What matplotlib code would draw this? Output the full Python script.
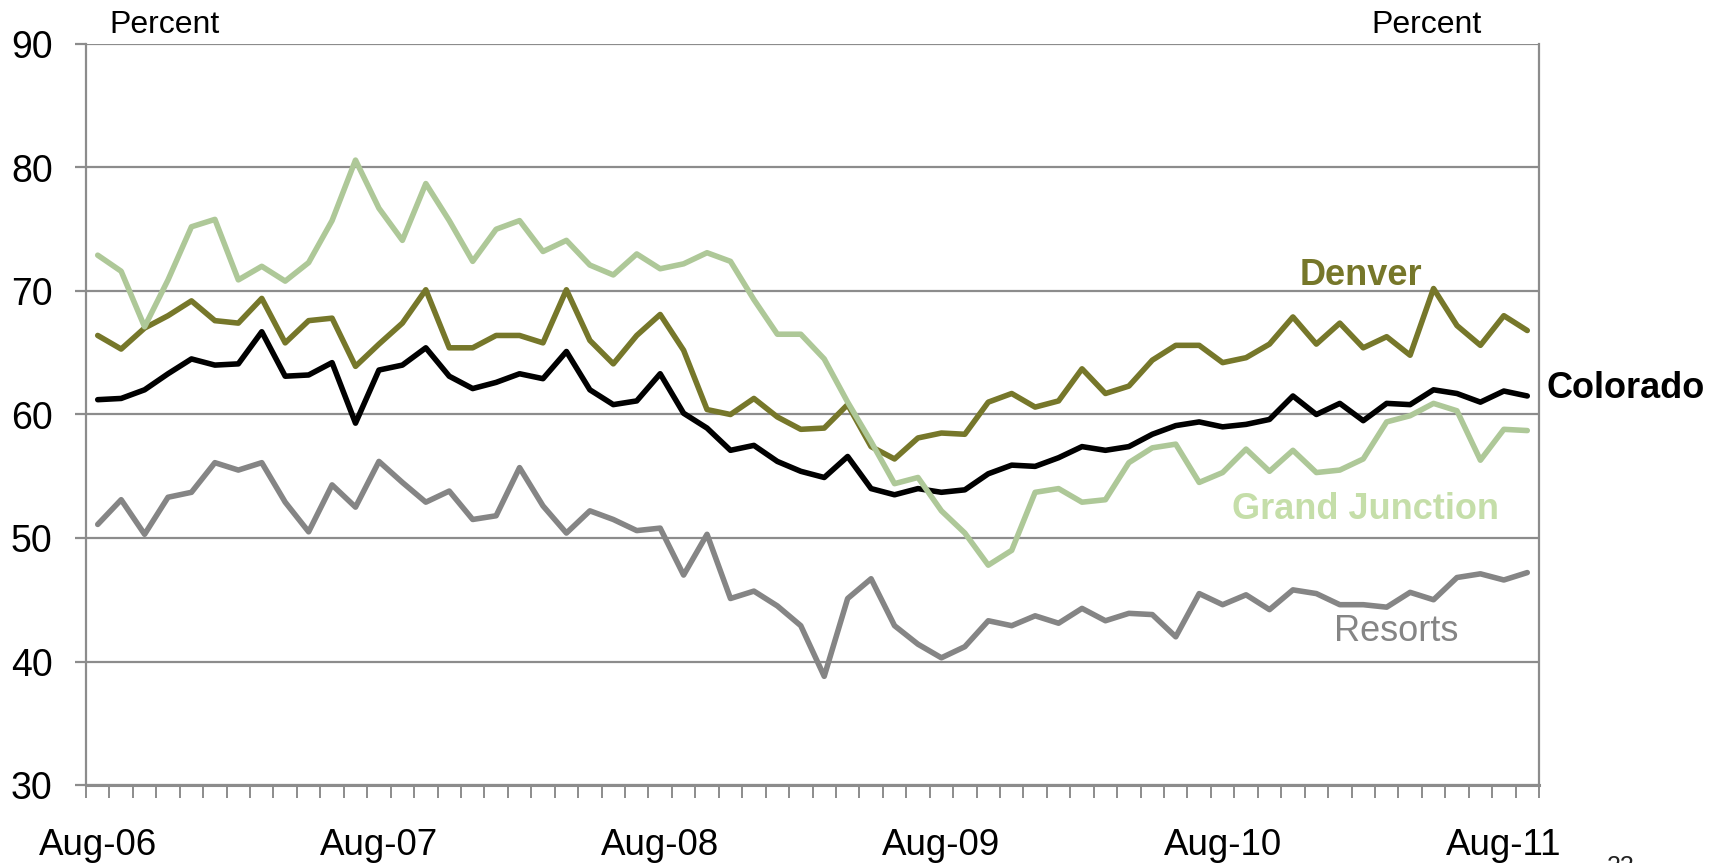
import numpy as np
import pandas as pd
import matplotlib
matplotlib.use("Agg")
import matplotlib.pyplot as plt

plt.rcParams['font.family'] = ['Liberation Sans', 'DejaVu Sans']

# ---- data ----
months = [d.strftime('%b-%y') for d in pd.date_range('2006-08-01', periods=62, freq='MS')]

colorado = [61.2, 61.3, 62.0, 63.3, 64.5, 64.0, 64.1, 66.7, 63.1, 63.2,
            64.2, 59.3, 63.6, 64.0, 65.4, 63.1, 62.1, 62.6, 63.3, 62.9,
            65.1, 62.0, 60.8, 61.1, 63.3, 60.1, 58.9, 57.1, 57.5, 56.2,
            55.4, 54.9, 56.6, 54.0, 53.5, 54.0, 53.7, 53.9, 55.2, 55.9,
            55.8, 56.5, 57.4, 57.1, 57.4, 58.4, 59.1, 59.4, 59.0, 59.2,
            59.6, 61.5, 60.0, 60.9, 59.5, 60.9, 60.8, 62.0, 61.7, 61.0,
            61.9, 61.5]

denver = [66.4, 65.3, 67.0, 68.0, 69.2, 67.6, 67.4, 69.4, 65.8, 67.6,
          67.8, 63.9, 65.7, 67.4, 70.1, 65.4, 65.4, 66.4, 66.4, 65.8,
          70.1, 66.0, 64.1, 66.4, 68.1, 65.2, 60.4, 60.0, 61.3, 59.8,
          58.8, 58.9, 60.8, 57.4, 56.4, 58.1, 58.5, 58.4, 61.0, 61.7,
          60.6, 61.1, 63.7, 61.7, 62.3, 64.4, 65.6, 65.6, 64.2, 64.6,
          65.7, 67.9, 65.7, 67.4, 65.4, 66.3, 64.8, 70.2, 67.2, 65.6,
          68.0, 66.8]

grand_junction = [72.9, 71.6, 67.1, 70.9, 75.2, 75.8, 70.9, 72.0, 70.8, 72.3,
                  75.7, 80.6, 76.7, 74.1, 78.7, 75.7, 72.4, 75.0, 75.7, 73.2,
                  74.1, 72.1, 71.3, 73.0, 71.8, 72.2, 73.1, 72.4, 69.3, 66.5,
                  66.5, 64.5, 61.0, 57.8, 54.4, 54.9, 52.2, 50.4, 47.8, 49.0,
                  53.7, 54.0, 52.9, 53.1, 56.1, 57.3, 57.6, 54.5, 55.3, 57.2,
                  55.4, 57.1, 55.3, 55.5, 56.4, 59.4, 59.9, 60.9, 60.3, 56.3,
                  58.8, 58.7]

resorts = [51.1, 53.1, 50.3, 53.3, 53.7, 56.1, 55.5, 56.1, 52.9, 50.5,
           54.3, 52.5, 56.2, 54.5, 52.9, 53.8, 51.5, 51.8, 55.7, 52.6,
           50.4, 52.2, 51.5, 50.6, 50.8, 47.0, 50.3, 45.1, 45.7, 44.5,
           42.9, 38.8, 45.1, 46.7, 42.9, 41.4, 40.3, 41.2, 43.3, 42.9,
           43.7, 43.1, 44.3, 43.3, 43.9, 43.8, 42.0, 45.5, 44.6, 45.4,
           44.2, 45.8, 45.5, 44.6, 44.6, 44.4, 45.6, 45.0, 46.8, 47.1,
           46.6, 47.2]

y_ticks = [30, 40, 50, 60, 70, 80, 90]

# ---- style ----
W, H = 1729, 863
C_DEN = '#76772a'
C_GJ = '#aec898'
C_GJ_TXT = '#c5dea9'
C_RES = '#858585'
C_COL = '#000000'
C_GRID = '#8c8c8c'

fig = plt.figure(figsize=(W / 100, H / 100), dpi=100)
ax = fig.add_axes([86 / W, 1 - 785 / H, (1539 - 86) / W, (785 - 44) / H])

x = np.arange(len(months))
lw = 4.0
kw = dict(lw=lw, solid_joinstyle='round', solid_capstyle='round')
ax.plot(x, colorado, color=C_COL, zorder=3, **kw)
ax.plot(x, denver, color=C_DEN, zorder=3, **kw)
ax.plot(x, grand_junction, color=C_GJ, zorder=4, **kw)
ax.plot(x, resorts, color=C_RES, zorder=3, **kw)

ax.set_xlim(-0.5, len(months) - 0.5)
ax.set_ylim(30, 90)
ax.set_yticks(y_ticks)
ax.set_yticklabels([str(v) for v in y_ticks])
ax.yaxis.grid(True, color=C_GRID, lw=1.6, zorder=0)
ax.set_axisbelow(True)

for side in ['left', 'right']:
    ax.spines[side].set_color(C_GRID)
    ax.spines[side].set_linewidth(1.6)
ax.spines['top'].set_visible(False)
ax.spines['bottom'].set_color(C_GRID)
ax.spines['bottom'].set_linewidth(2.2)

ax.tick_params(axis='y', direction='out', length=8, width=1.6, color=C_GRID,
               labelsize=27, pad=16, labelcolor='black')

major_idx = list(range(0, len(months), 12))
ax.set_xticks(major_idx)
ax.set_xticklabels([months[i] for i in major_idx])
ax.set_xticks(np.arange(-0.5, len(months), 1.0), minor=True)
ax.tick_params(axis='x', which='major', length=0, labelsize=26.5, pad=31, labelcolor='black')
ax.tick_params(axis='x', which='minor', direction='out', length=9, width=1.4, color=C_GRID)

# series labels
ax.text(53.9, 70.5, 'Denver', color=C_DEN, fontsize=26, fontweight='bold',
        ha='center', va='baseline')
ax.text(61.8, 61.3, 'Colorado', color=C_COL, fontsize=26, fontweight='bold',
        ha='left', va='baseline', clip_on=False)
ax.text(54.1, 51.5, 'Grand Junction', color=C_GJ_TXT, fontsize=26, fontweight='bold',
        ha='center', va='baseline')
ax.text(55.4, 41.7, 'Resorts', color=C_RES, fontsize=26, ha='center', va='baseline')

fig.text(164 / W, 1 - 33 / H, 'Percent', fontsize=23, ha='center', va='baseline')
fig.text(1426 / W, 1 - 33 / H, 'Percent', fontsize=23, ha='center', va='baseline')
fig.text(1621 / W, 1 - 855 / H, '23', fontsize=18, ha='center', va='top', color='#222222')

fig.savefig('out.png', dpi=100)
